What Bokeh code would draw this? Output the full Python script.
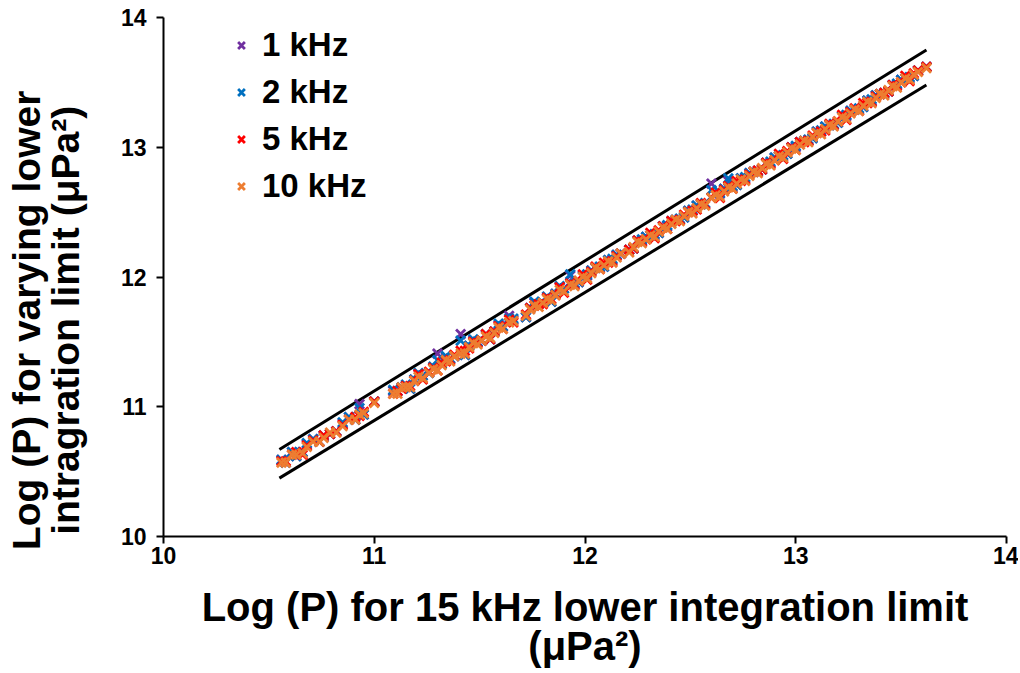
from bokeh.plotting import figure
from bokeh.models import Range1d, FixedTicker, Legend, LegendItem
from bokeh.embed import file_html
from bokeh.resources import INLINE

FONT = "Liberation Sans"

# x: Log(P) for 15 kHz lower integration limit
log_p_15k = [
    10.56, 10.58, 10.61, 10.63, 10.66, 10.68, 10.71, 10.74, 10.76, 10.79,
    10.82, 10.85, 10.88, 10.91, 10.93, 10.95, 11.00, 11.09, 11.11, 11.13,
    11.15, 11.17, 11.19, 11.21, 11.23, 11.26, 11.28, 11.30, 11.32, 11.34,
    11.36, 11.38, 11.41, 11.43, 11.45, 11.47, 11.49, 11.51, 11.53, 11.55,
    11.57, 11.59, 11.61, 11.64, 11.66, 11.72, 11.74, 11.76, 11.78, 11.80,
    11.82, 11.84, 11.86, 11.88, 11.90, 11.93, 11.95, 11.97, 11.99, 12.01,
    12.03, 12.05, 12.07, 12.09, 12.11, 12.13, 12.15, 12.17, 12.21, 12.23,
    12.25, 12.27, 12.29, 12.31, 12.33, 12.35, 12.37, 12.39, 12.41, 12.43,
    12.45, 12.47, 12.49, 12.51, 12.53, 12.55, 12.57, 12.60, 12.62, 12.64,
    12.66, 12.68, 12.70, 12.72, 12.74, 12.76, 12.78, 12.80, 12.82, 12.84,
    12.86, 12.88, 12.90, 12.92, 12.94, 12.96, 12.98, 13.00, 13.02, 13.04,
    13.06, 13.08, 13.10, 13.12, 13.14, 13.16, 13.18, 13.20, 13.22, 13.24,
    13.26, 13.28, 13.30, 13.32, 13.34, 13.36, 13.38, 13.40, 13.42, 13.44,
    13.46, 13.48, 13.50, 13.52, 13.54, 13.56, 13.58, 13.62,
]

# y: Log(P) for varying lower integration limit
log_p_1k = [
    10.59, 10.57, 10.65, 10.62, 10.65, 10.71, 10.75, 10.73, 10.77, 10.79,
    10.81, 10.87, 10.92, 10.90, 11.02, 10.94, 11.04, 11.12, 11.12, 11.15,
    11.16, 11.14, 11.21, 11.25, 11.24, 11.26, 11.30, 11.41, 11.33, 11.38,
    11.37, 11.39, 11.56, 11.40, 11.47, 11.51, 11.50, 11.51, 11.55, 11.52,
    11.58, 11.63, 11.62, 11.70, 11.67, 11.69, 11.76, 11.80, 11.79, 11.80,
    11.84, 11.81, 11.87, 11.92, 11.91, 12.01, 11.95, 11.96, 12.01, 12.01,
    12.05, 12.07, 12.07, 12.08, 12.13, 12.13, 12.17, 12.18, 12.21, 12.22,
    12.28, 12.28, 12.31, 12.32, 12.32, 12.34, 12.39, 12.39, 12.43, 12.44,
    12.44, 12.46, 12.51, 12.51, 12.55, 12.56, 12.56, 12.72, 12.64, 12.64,
    12.68, 12.74, 12.69, 12.71, 12.76, 12.76, 12.80, 12.81, 12.81, 12.83,
    12.88, 12.88, 12.92, 12.93, 12.93, 12.95, 13.00, 13.00, 13.04, 13.05,
    13.05, 13.07, 13.12, 13.12, 13.16, 13.17, 13.17, 13.19, 13.24, 13.24,
    13.28, 13.29, 13.29, 13.31, 13.36, 13.36, 13.40, 13.41, 13.41, 13.43,
    13.48, 13.48, 13.52, 13.53, 13.53, 13.55, 13.59, 13.62,
]
log_p_2k = [
    10.59, 10.57, 10.65, 10.62, 10.65, 10.72, 10.75, 10.73, 10.78, 10.79,
    10.81, 10.88, 10.92, 10.90, 10.99, 10.94, 11.04, 11.13, 11.12, 11.15,
    11.17, 11.14, 11.21, 11.26, 11.24, 11.26, 11.31, 11.36, 11.33, 11.39,
    11.37, 11.39, 11.51, 11.40, 11.47, 11.52, 11.50, 11.51, 11.56, 11.52,
    11.58, 11.64, 11.62, 11.68, 11.68, 11.69, 11.76, 11.81, 11.79, 11.80,
    11.85, 11.81, 11.87, 11.93, 11.91, 12.02, 11.95, 11.96, 12.01, 12.02,
    12.05, 12.07, 12.08, 12.08, 12.13, 12.14, 12.17, 12.18, 12.21, 12.22,
    12.28, 12.29, 12.31, 12.32, 12.33, 12.34, 12.39, 12.40, 12.43, 12.44,
    12.45, 12.46, 12.51, 12.52, 12.55, 12.56, 12.57, 12.67, 12.64, 12.65,
    12.68, 12.76, 12.70, 12.71, 12.76, 12.77, 12.80, 12.81, 12.82, 12.83,
    12.88, 12.89, 12.92, 12.93, 12.94, 12.95, 13.00, 13.01, 13.04, 13.05,
    13.06, 13.07, 13.12, 13.13, 13.16, 13.17, 13.18, 13.19, 13.24, 13.25,
    13.28, 13.29, 13.30, 13.31, 13.36, 13.37, 13.40, 13.41, 13.42, 13.43,
    13.48, 13.49, 13.52, 13.53, 13.54, 13.55, 13.59, 13.62,
]
log_p_5k = [
    10.58, 10.58, 10.63, 10.65, 10.63, 10.70, 10.74, 10.73, 10.78, 10.79,
    10.81, 10.86, 10.90, 10.92, 10.93, 10.96, 11.04, 11.10, 11.12, 11.14,
    11.16, 11.16, 11.20, 11.25, 11.21, 11.27, 11.30, 11.28, 11.34, 11.35,
    11.36, 11.40, 11.43, 11.43, 11.45, 11.50, 11.49, 11.51, 11.56, 11.52,
    11.58, 11.62, 11.60, 11.67, 11.65, 11.71, 11.76, 11.78, 11.79, 11.79,
    11.84, 11.83, 11.86, 11.92, 11.88, 11.95, 11.94, 11.97, 12.02, 11.98,
    12.04, 12.08, 12.06, 12.11, 12.11, 12.12, 12.16, 12.18, 12.21, 12.22,
    12.28, 12.27, 12.29, 12.34, 12.30, 12.36, 12.39, 12.37, 12.43, 12.43,
    12.44, 12.48, 12.50, 12.51, 12.52, 12.57, 12.56, 12.61, 12.65, 12.61,
    12.67, 12.70, 12.68, 12.74, 12.74, 12.75, 12.79, 12.81, 12.82, 12.83,
    12.88, 12.87, 12.90, 12.95, 12.91, 12.97, 13.00, 12.98, 13.04, 13.04,
    13.05, 13.09, 13.11, 13.12, 13.13, 13.18, 13.17, 13.20, 13.25, 13.21,
    13.27, 13.30, 13.28, 13.34, 13.34, 13.35, 13.39, 13.41, 13.42, 13.43,
    13.48, 13.47, 13.50, 13.55, 13.51, 13.57, 13.59, 13.62,
]
log_p_10k = [
    10.57, 10.57, 10.63, 10.63, 10.64, 10.69, 10.73, 10.73, 10.76, 10.80,
    10.80, 10.85, 10.90, 10.90, 10.94, 10.95, 11.03, 11.10, 11.10, 11.15,
    11.15, 11.15, 11.20, 11.23, 11.22, 11.26, 11.29, 11.28, 11.32, 11.36,
    11.35, 11.39, 11.41, 11.41, 11.46, 11.49, 11.48, 11.51, 11.54, 11.53,
    11.57, 11.61, 11.60, 11.65, 11.66, 11.70, 11.75, 11.78, 11.77, 11.80,
    11.83, 11.82, 11.86, 11.90, 11.89, 11.94, 11.93, 11.97, 12.00, 11.99,
    12.03, 12.07, 12.06, 12.09, 12.12, 12.11, 12.15, 12.18, 12.19, 12.23,
    12.27, 12.26, 12.29, 12.32, 12.31, 12.35, 12.38, 12.37, 12.41, 12.44,
    12.43, 12.47, 12.50, 12.49, 12.53, 12.56, 12.55, 12.61, 12.63, 12.62,
    12.66, 12.69, 12.68, 12.72, 12.75, 12.74, 12.78, 12.81, 12.80, 12.84,
    12.87, 12.86, 12.90, 12.93, 12.92, 12.96, 12.99, 12.98, 13.02, 13.05,
    13.04, 13.08, 13.11, 13.10, 13.14, 13.17, 13.16, 13.20, 13.23, 13.22,
    13.26, 13.29, 13.28, 13.32, 13.35, 13.34, 13.38, 13.41, 13.40, 13.44,
    13.47, 13.46, 13.50, 13.53, 13.52, 13.56, 13.58, 13.61,
]

# bounding lines
upper_x = [10.55, 13.62]
upper_y = [10.67, 13.75]
lower_x = [10.55, 13.62]
lower_y = [10.45, 13.48]

series_labels = ["1 kHz", "2 kHz", "5 kHz", "10 kHz"]
series_colors = ["#7030A0", "#0070C0", "#FF0000", "#ED7D31"]
ticks = [10, 11, 12, 13, 14]

x_title = "Log (P) for 15 kHz lower integration limit\n(μPa²)"
PAD = "\u00a0" * 8  # non-breaking spaces shift the centred label towards the axis start
y_title = "Log (P) for varying lower" + PAD + "\nintragration limit (μPa²)" + PAD

p = figure(width=1018, height=673, x_range=Range1d(10, 14), y_range=Range1d(10, 14),
           output_backend="svg", toolbar_location=None,
           min_border_left=163, min_border_right=12, min_border_top=17, min_border_bottom=137)
p.outline_line_color = None
p.xgrid.visible = False
p.ygrid.visible = False
p.background_fill_color = "white"

p.line(upper_x, upper_y, line_width=3, color="black")
p.line(lower_x, lower_y, line_width=3, color="black")

renderers = []
for ys, col in zip([log_p_1k, log_p_2k, log_p_5k, log_p_10k], series_colors):
    r = p.scatter(log_p_15k, ys, marker="x", size=13, line_width=2.8, color=col)
    renderers.append(r)

for ax in (p.xaxis[0], p.yaxis[0]):
    ax.ticker = FixedTicker(ticks=ticks)
    ax.axis_line_width = 2
    ax.axis_line_color = "black"
    ax.major_tick_line_width = 2
    ax.major_tick_line_color = "black"
    ax.major_tick_in = 0
    ax.major_tick_out = 7
    ax.minor_tick_line_color = None
    ax.major_label_text_font = FONT
    ax.major_label_text_font_size = "23px"
    ax.major_label_text_font_style = "bold"
    ax.major_label_text_color = "black"
    ax.axis_label_text_font = FONT
    ax.axis_label_text_font_style = "bold"
    ax.axis_label_text_color = "black"
    ax.axis_label_text_line_height = 0.9

p.yaxis[0].major_label_standoff = 10
p.xaxis[0].major_label_standoff = 3

p.xaxis[0].axis_label = x_title
p.xaxis[0].axis_label_text_font_size = "40px"
p.xaxis[0].axis_label_standoff = 18

p.yaxis[0].axis_label = y_title
p.yaxis[0].axis_label_text_font_size = "39px"
p.yaxis[0].axis_label_standoff = 31

items = [LegendItem(label=lab, renderers=[r]) for lab, r in zip(series_labels, renderers)]
legend = Legend(items=items, location=(66, 331), label_text_font=FONT,
                label_text_font_size="33px", label_text_font_style="bold",
                label_text_color="black", border_line_color=None,
                background_fill_alpha=0, glyph_width=24, glyph_height=24,
                spacing=9, label_standoff=9, padding=0, margin=0)
p.add_layout(legend)

open("out.html", "w").write(file_html(p, INLINE))
